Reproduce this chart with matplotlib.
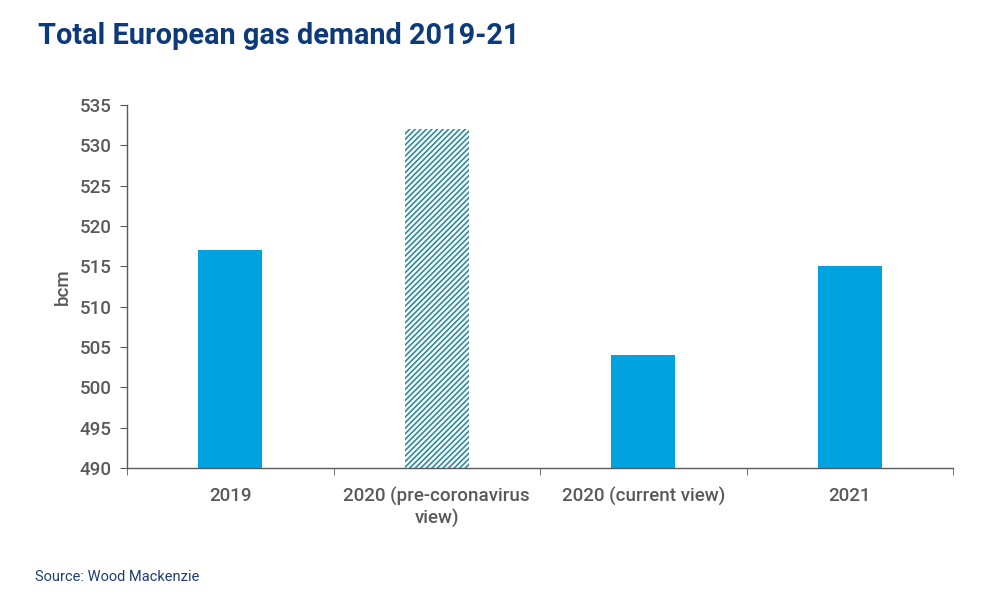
import matplotlib
matplotlib.use("Agg")
import matplotlib.pyplot as plt
import numpy as np

categories = ["2019", "2020 (pre-coronavirus\nview)", "2020 (current view)", "2021"]
values = [517, 532, 504, 515]
hatched = [False, True, False, False]
yticks = [490, 495, 500, 505, 510, 515, 520, 525, 530, 535]

plt.rcParams['font.family'] = ['Roboto', 'DejaVu Sans']
plt.rcParams['hatch.linewidth'] = 1.2
plt.rcParams['hatch.color'] = '#2B8C9E'

fig = plt.figure(figsize=(10, 6), dpi=100)
ax = fig.add_axes([0.127, 0.22, 0.826, 0.605])

x = np.arange(len(categories))
base = 490
for i, (v, h) in enumerate(zip(values, hatched)):
    if h:
        ax.bar(x[i], v - base, bottom=base, width=0.31, color='white',
               edgecolor='#2B8C9E', hatch='//////', linewidth=0)
    else:
        ax.bar(x[i], v - base, bottom=base, width=0.31, color='#00A3E0', linewidth=0)

ax.set_xlim(-0.5, len(categories) - 0.5)
ax.set_ylim(490, 535)
ax.set_yticks(yticks)
ax.set_xticks(x)
ax.set_xticklabels(categories, fontsize=13.5, color='#595959', linespacing=1.2,
                   fontweight='medium')
ax.tick_params(axis='x', length=0, pad=14)
ax.set_xticks(np.arange(-0.5, len(categories), 1.0), minor=True)
ax.tick_params(axis='x', which='minor', length=5, color='#595959', direction='out')
ax.tick_params(axis='y', labelsize=13.5, labelcolor='#595959', length=5, color='#595959', pad=6)
for lbl in ax.get_yticklabels():
    lbl.set_fontweight('medium')
for s in ['top', 'right']:
    ax.spines[s].set_visible(False)
for s in ['left', 'bottom']:
    ax.spines[s].set_color('#595959')
    ax.spines[s].set_linewidth(1.0)
ax.set_ylabel('bcm', fontsize=13.5, color='#595959', labelpad=6, fontweight='medium')

fig.text(0.038, 0.94, 'Total European gas demand 2019-21', fontsize=20.8, fontweight='bold',
         color='#0D3A7A', va='center', ha='left')
fig.text(0.035, 0.038, 'Source: Wood Mackenzie', fontsize=10.5, color='#1F3F73',
         va='center', ha='left')

fig.savefig('out.png', dpi=100)
